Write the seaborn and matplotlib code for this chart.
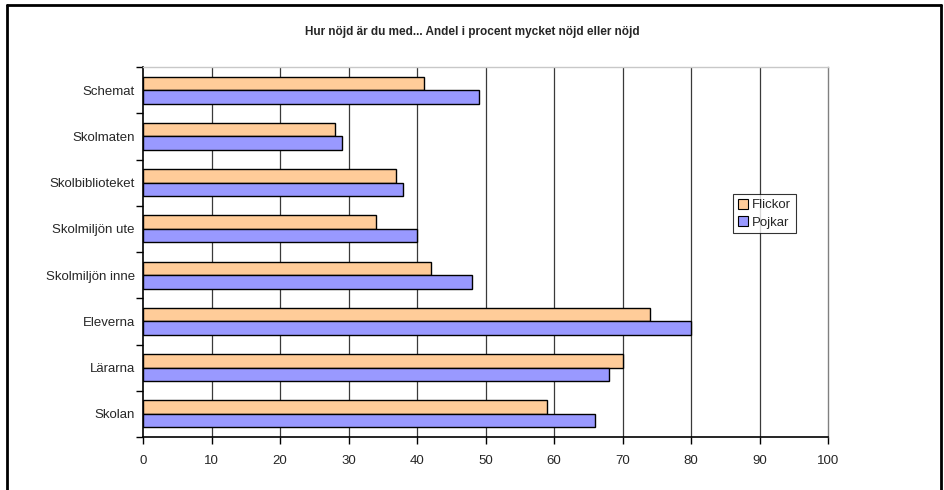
import matplotlib
matplotlib.use("Agg")
import matplotlib.pyplot as plt
import seaborn as sns
import pandas as pd
from matplotlib.lines import Line2D
from matplotlib.ticker import FixedLocator

categories = ["Schemat", "Skolmaten", "Skolbiblioteket", "Skolmiljön ute",
              "Skolmiljön inne", "Eleverna", "Lärarna", "Skolan"]
flickor = [41, 28, 37, 34, 42, 74, 70, 59]
pojkar = [49, 29, 38, 40, 48, 80, 68, 66]
series = ["Flickor", "Pojkar"]
colors = ["#FFCC99", "#9999FF"]
xticks = list(range(0, 101, 10))
title = "Hur nöjd är du med... Andel i procent mycket nöjd eller nöjd"

sns.set_theme(style="white")
plt.rcParams['font.family'] = ['Liberation Sans', 'DejaVu Sans']

df = pd.DataFrame({
    "kategori": categories * 2,
    "värde": flickor + pojkar,
    "kön": [series[0]] * len(categories) + [series[1]] * len(categories),
})

fig = plt.figure(figsize=(9.44, 4.90), dpi=100)
ax = fig.add_axes([143/944, 1 - 437/490, (828-143)/944, (437-67)/490])

sns.barplot(data=df, y="kategori", x="värde", hue="kön", order=categories,
            hue_order=series, palette=colors, width=0.58, orient="h",
            edgecolor="black", linewidth=1.0, saturation=1, ax=ax, legend=True)

ax.set_xlim(0, 100)
ax.set_ylim(len(categories) - 0.5, -0.5)
ax.set_xticks(xticks)
ax.set_xticklabels([str(t) for t in xticks], fontsize=9.5)
ax.set_xlabel("")
ax.set_ylabel("")
ax.tick_params(axis="y", which="major", length=0, labelsize=9.5, pad=6)
ax.yaxis.set_minor_locator(FixedLocator([i - 0.5 for i in range(len(categories) + 1)]))
ax.tick_params(axis="y", which="minor", length=5, width=1, color="black", direction="out", left=True)
ax.tick_params(axis="x", which="major", length=5, width=1, color="black", direction="out", bottom=True, pad=8)

for t in xticks[1:-1]:
    ax.axvline(t, color="#3A3A3A", lw=0.9, zorder=0)

for s in ["left", "bottom"]:
    ax.spines[s].set_color("black")
    ax.spines[s].set_linewidth(1.2)
ax.spines["top"].set_color("#C8C8C8")
ax.spines["top"].set_linewidth(1.0)
ax.spines["right"].set_color("#808080")
ax.spines["right"].set_linewidth(1.0)

leg = ax.legend(loc="upper left", bbox_to_anchor=((733-143)/685, 1 - (194-67)/370),
                frameon=True, fontsize=9.5, handlelength=0.8, handleheight=0.8,
                handletextpad=0.3, borderpad=0.35, labelspacing=0.35, fancybox=False,
                borderaxespad=0)
leg.get_frame().set_edgecolor("black")
leg.get_frame().set_linewidth(0.8)
for h in leg.legend_handles:
    h.set_edgecolor("black")
    h.set_linewidth(0.8)

fig.text(0.5, 1 - 32/490, title, ha="center", va="center", fontsize=8.5, fontweight="bold")

# outer frame
for xs, ys in [([7/944, 7/944], [-0.1, 1 - 5/490]),
               ([7/944, 941/944], [1 - 5/490, 1 - 5/490]),
               ([941/944, 941/944], [-0.1, 1 - 5/490])]:
    fig.add_artist(Line2D(xs, ys, color="black", lw=2, transform=fig.transFigure))

fig.savefig("out.png", dpi=100)
